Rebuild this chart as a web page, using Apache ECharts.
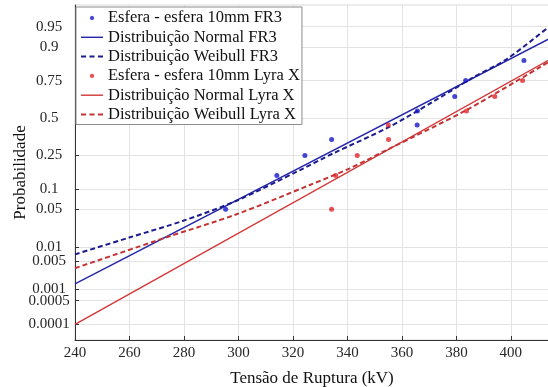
<!DOCTYPE html>
<html>
<head>
<meta charset="utf-8">
<script src="https://cdn.jsdelivr.net/npm/echarts@6/dist/echarts.min.js"></script>
<style>
  html, body { margin: 0; padding: 0; background: #fff; }
  #chart { width: 548px; height: 387px; }
</style>
</head>
<body>
<div id="chart"></div>
<script>
// eixo x (kV) e rótulos de probabilidade do papel normal
const xTicks = [240, 260, 280, 300, 320, 340, 360, 380, 400];
const yTickProbs = [0.0001, 0.0005, 0.001, 0.005, 0.01, 0.05, 0.1, 0.25, 0.5, 0.75, 0.9, 0.95];
const yTickLabels = ['0.0001', '0.0005', '0.001', '0.005', '0.01', '0.05', '0.1', '0.25', '0.5', '0.75', '0.9', '0.95'];

// ensaios esfera - esfera 10mm
const fr3Kv = [295.3, 314.1, 324.4, 334.2, 365.6, 365.7, 379.4, 383.4, 404.8];
const fr3Prob = [0.05, 0.15, 0.25, 0.35, 0.45, 0.55, 0.65, 0.75, 0.85];
const lyraKv = [334.2, 335.7, 343.6, 355.1, 355.0, 383.7, 394.1, 404.3];
const lyraProb = [0.05, 0.15, 0.25, 0.35, 0.45, 0.55, 0.65, 0.75];

// distribuições ajustadas
const normalFr3Kv = [240, 414];
const normalFr3Prob = [0.0014, 0.923];
const weibullFr3Kv = [240, 260.2, 279.7, 299.3, 322.6, 334.8, 355.0, 371.5, 386.2, 398.4, 414];
const weibullFr3Prob = [0.0070, 0.0158, 0.032, 0.068, 0.174, 0.262, 0.433, 0.616, 0.768, 0.855, 0.95];
const normalLyraKv = [240, 414];
const normalLyraProb = [0.0001, 0.852];
const weibullLyraKv = [240, 273.6, 299.3, 326.2, 340.9, 354.4, 383.7, 414];
const weibullLyraProb = [0.0034, 0.0158, 0.0414, 0.1137, 0.1824, 0.282, 0.557, 0.845];

// escala de probabilidade normal: p -> quantil
function probit(p) {
  const a = [-3.969683028665376e+01, 2.209460984245205e+02, -2.759285104469687e+02, 1.383577518672690e+02, -3.066479806614716e+01, 2.506628277459239e+00];
  const b = [-5.447609879822406e+01, 1.615858368580409e+02, -1.556989798598866e+02, 6.680131188771972e+01, -1.328068155092099e+01];
  const c = [-7.784894002430293e-03, -3.223964580411365e-01, -2.400758277161838e+00, -2.549732539343734e+00, 4.374664141464968e+00, 2.938163982698783e+00];
  const d = [7.784695709041462e-03, 3.224671290700398e-01, 2.445134137142996e+00, 3.754408661907416e+00];
  const pl = 0.02425;
  let q, r;
  if (p < pl) {
    q = Math.sqrt(-2 * Math.log(p));
    return (((((c[0] * q + c[1]) * q + c[2]) * q + c[3]) * q + c[4]) * q + c[5]) / ((((d[0] * q + d[1]) * q + d[2]) * q + d[3]) * q + 1);
  }
  if (p > 1 - pl) {
    q = Math.sqrt(-2 * Math.log(1 - p));
    return -(((((c[0] * q + c[1]) * q + c[2]) * q + c[3]) * q + c[4]) * q + c[5]) / ((((d[0] * q + d[1]) * q + d[2]) * q + d[3]) * q + 1);
  }
  q = p - 0.5;
  r = q * q;
  return (((((a[0] * r + a[1]) * r + a[2]) * r + a[3]) * r + a[4]) * r + a[5]) * q / (((((b[0] * r + b[1]) * r + b[2]) * r + b[3]) * r + b[4]) * r + 1);
}

const pairs = (xs, ps) => xs.map((x, i) => [x, probit(ps[i])]);
const yTickZ = yTickProbs.map(probit);

const FONT = 'Liberation Serif';
const BLUE = '#2424a8', BLUE_D = '#1c1c8e', BLUE_P = '#1616c8';
const RED = '#d43636', RED_D = '#c43434', RED_P = '#e0262b';

// ícones da legenda (caixa 22x14)
const dotIcon = 'path://M0,0M22,14M13.2,7L12.6,8.6L11,9.2L9.4,8.6L8.8,7L9.4,5.4L11,4.8L12.6,5.4Z';
const solidIcon = 'path://M0,0M22,14M0,6.3L22,6.3L22,7.7L0,7.7Z';
const dashIcon = 'path://M0,0M22,14M0,6L5,6L5,8L0,8ZM8.5,6L13.5,6L13.5,8L8.5,8ZM17,6L22,6L22,8L17,8Z';

const chart = echarts.init(document.getElementById('chart'), null, { renderer: 'canvas' });
chart.setOption({
  animation: false,
  textStyle: { fontFamily: FONT },
  grid: {
    left: 75, right: -1, top: 5, bottom: 47,
    outerBoundsMode: 'none', containLabel: false,
    show: true, borderColor: '#d9d9d9', borderWidth: 1, backgroundColor: 'transparent'
  },
  legend: {
    orient: 'vertical',
    left: 76, top: 7,
    padding: [2, 2, 1, 5],
    itemWidth: 22, itemHeight: 14, itemGap: 1.3,
    backgroundColor: '#fff',
    borderColor: '#8c8c8c', borderWidth: 1,
    textStyle: { fontFamily: FONT, fontSize: 16.5, color: '#111', lineHeight: 18 },
    data: [
      { name: 'Esfera - esfera 10mm FR3', icon: dotIcon },
      { name: 'Distribuição Normal FR3', icon: solidIcon },
      { name: 'Distribuição Weibull FR3', icon: dashIcon },
      { name: 'Esfera - esfera 10mm Lyra X', icon: dotIcon },
      { name: 'Distribuição Normal Lyra X', icon: solidIcon },
      { name: 'Distribuição Weibull Lyra X', icon: dashIcon }
    ]
  },
  xAxis: {
    type: 'value',
    min: 240, max: 414,
    name: 'Tensão de Ruptura (kV)',
    nameLocation: 'middle', nameGap: 30, nameMoveOverlap: false,
    nameTextStyle: { fontFamily: FONT, fontSize: 17, color: '#111' },
    axisLine: { onZero: false, lineStyle: { color: '#333', width: 1 } },
    axisTick: { inside: true, length: 4, customValues: xTicks, lineStyle: { color: '#333' } },
    axisLabel: { customValues: xTicks, margin: 6, fontFamily: FONT, fontSize: 15, color: '#262626' },
    splitLine: { show: true, lineStyle: { color: '#e3e3e3', width: 1 } }
  },
  yAxis: {
    type: 'value',
    min: -4, max: 2.036,
    name: 'Probabilidade',
    nameLocation: 'middle', nameGap: 46, nameMoveOverlap: false,
    nameTextStyle: { fontFamily: FONT, fontSize: 17, color: '#111' },
    axisLine: { show: true, onZero: false, lineStyle: { color: '#333', width: 1 } },
    axisTick: { show: true, inside: true, length: 4, customValues: yTickZ, lineStyle: { color: '#333' } },
    axisLabel: {
      customValues: yTickZ, margin: 26, align: 'center',
      fontFamily: FONT, fontSize: 15, color: '#262626',
      formatter: v => {
        let best = 0;
        yTickZ.forEach((z, i) => { if (Math.abs(z - v) < Math.abs(yTickZ[best] - v)) best = i; });
        return yTickLabels[best];
      }
    },
    splitLine: { show: true, lineStyle: { color: '#e3e3e3', width: 1 } }
  },
  series: [
    {
      name: 'Esfera - esfera 10mm FR3', type: 'scatter',
      data: pairs(fr3Kv, fr3Prob), symbol: 'circle', symbolSize: 5,
      itemStyle: { color: BLUE_P }, z: 5
    },
    {
      name: 'Distribuição Normal FR3', type: 'line',
      data: pairs(normalFr3Kv, normalFr3Prob), symbol: 'none',
      lineStyle: { color: BLUE, width: 1.4 }, itemStyle: { color: BLUE }
    },
    {
      name: 'Distribuição Weibull FR3', type: 'line', smooth: 0.3,
      data: pairs(weibullFr3Kv, weibullFr3Prob), symbol: 'none',
      lineStyle: { color: BLUE_D, width: 2, type: [5, 3] }, itemStyle: { color: BLUE_D }
    },
    {
      name: 'Esfera - esfera 10mm Lyra X', type: 'scatter',
      data: pairs(lyraKv, lyraProb), symbol: 'circle', symbolSize: 5,
      itemStyle: { color: RED_P }, z: 5
    },
    {
      name: 'Distribuição Normal Lyra X', type: 'line',
      data: pairs(normalLyraKv, normalLyraProb), symbol: 'none',
      lineStyle: { color: RED, width: 1.4 }, itemStyle: { color: RED }
    },
    {
      name: 'Distribuição Weibull Lyra X', type: 'line', smooth: 0.3,
      data: pairs(weibullLyraKv, weibullLyraProb), symbol: 'none',
      lineStyle: { color: RED_D, width: 2, type: [5, 3] }, itemStyle: { color: RED_D }
    }
  ]
});
</script>
</body>
</html>
